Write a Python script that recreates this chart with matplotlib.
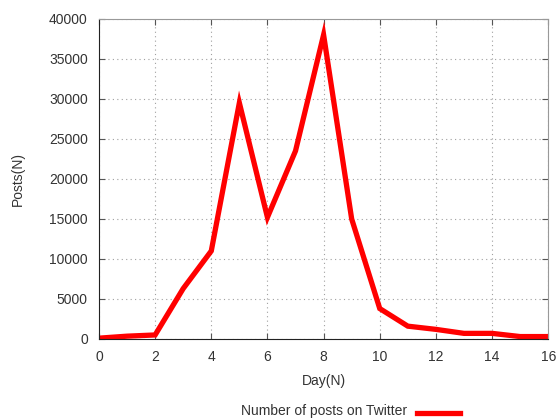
import matplotlib
matplotlib.use("Agg")
import matplotlib.pyplot as plt
from matplotlib.lines import Line2D

plt.rcParams['font.family'] = ['Liberation Sans', 'DejaVu Sans']

days = list(range(17))
posts = [100, 350, 500, 6300, 11000, 29500, 15200, 23500, 38000, 15000,
         3800, 1600, 1200, 700, 700, 300, 300]
xticks = list(range(0, 17, 2))
yticks = list(range(0, 40001, 5000))

FS = 10
TXT = '#333333'

fig = plt.figure(figsize=(5.56, 4.19), dpi=100)
ax = fig.add_axes([0.178, 0.191, 0.808, 0.764])
line, = ax.plot(days, posts, color='#ff0000', lw=3.8, solid_joinstyle='miter')
ax.set_xlim(0, 16)
ax.set_ylim(0, 40000)
ax.set_xticks(xticks)
ax.set_yticks(yticks)
ax.grid(True, linestyle=(0, (1, 3)), color='#a0a0a0', lw=0.8)
ax.tick_params(direction='in', top=True, right=True, length=4, labelsize=FS,
               labelcolor=TXT, color='#555555', pad=8)
for s in ['top', 'right']:
    ax.spines[s].set_color('#999999')
for s in ['left', 'bottom']:
    ax.spines[s].set_color('#222222')
ax.set_xlabel('Day(N)', fontsize=FS, color=TXT, va='center')
ax.set_ylabel('Posts(N)', fontsize=FS, color=TXT, va='center')
ax.xaxis.set_label_coords(0.5, -0.131)
ax.yaxis.set_label_coords(-0.180, 0.5)

fig.text(407 / 556, 1 - 411 / 419, 'Number of posts on Twitter', ha='right', va='center',
         fontsize=FS, color=TXT)
fig.add_artist(Line2D([417 / 556, 460 / 556], [1 - 413 / 419, 1 - 413 / 419],
                      color='#ff0000', lw=3.8, transform=fig.transFigure))

fig.savefig('out.png', dpi=100)
